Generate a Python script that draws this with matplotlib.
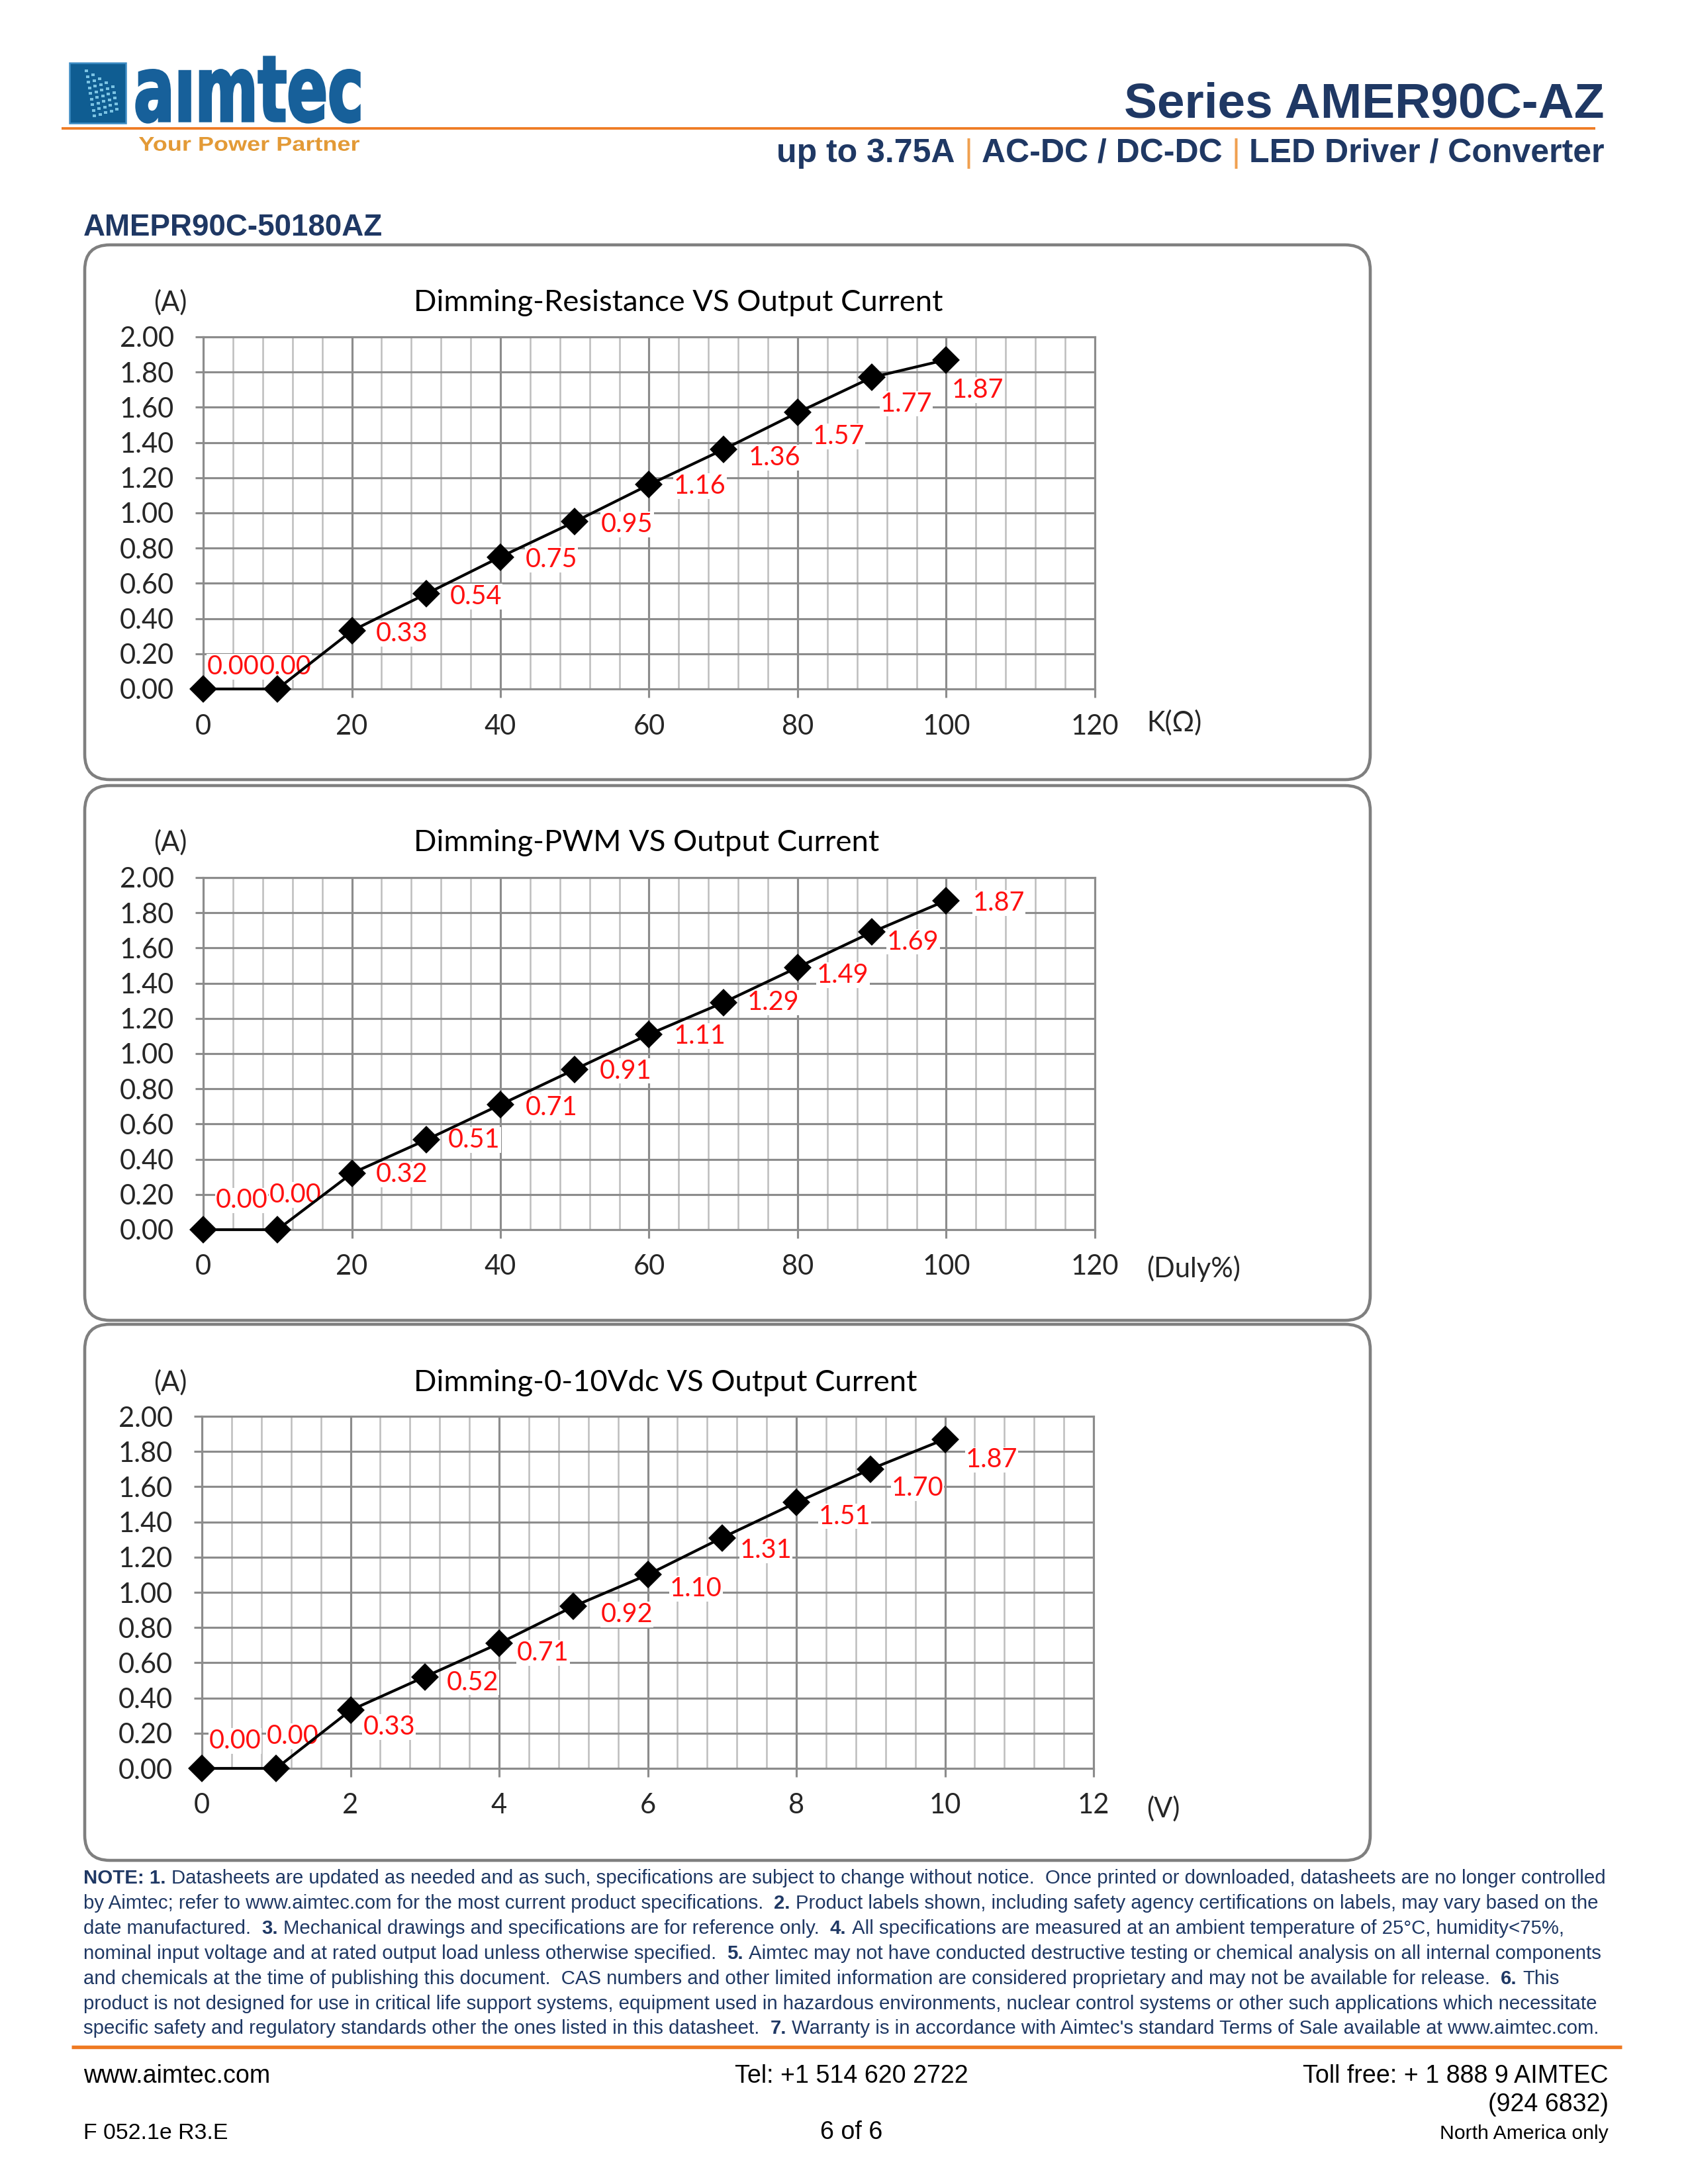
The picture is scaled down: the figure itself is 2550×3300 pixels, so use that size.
import numpy as np
import matplotlib
matplotlib.use("Agg")
import matplotlib.pyplot as plt
from matplotlib.patches import FancyBboxPatch, Rectangle, PathPatch
from matplotlib.textpath import TextPath
from matplotlib.font_manager import FontProperties, fontManager
from matplotlib.path import Path
from matplotlib.ticker import MultipleLocator, FormatStrFormatter

W, H = 2550, 3300

# ---- data ----
res_x = [0, 10, 20, 30, 40, 50, 60, 70, 80, 90, 100]
res_y = [0.00, 0.00, 0.33, 0.54, 0.75, 0.95, 1.16, 1.36, 1.57, 1.77, 1.87]

pwm_x = [0, 10, 20, 30, 40, 50, 60, 70, 80, 90, 100]
pwm_y = [0.00, 0.00, 0.32, 0.51, 0.71, 0.91, 1.11, 1.29, 1.49, 1.69, 1.87]

vdc_x = [0, 1, 2, 3, 4, 5, 6, 7, 8, 9, 10]
vdc_y = [0.00, 0.00, 0.33, 0.52, 0.71, 0.92, 1.10, 1.31, 1.51, 1.70, 1.87]

titles = ["Dimming-Resistance VS Output Current",
          "Dimming-PWM VS Output Current",
          "Dimming-0-10Vdc VS Output Current"]
units = ["K(Ω)", "(Duly%)", "(V)"]

# label offsets (points) for the red value labels
res_offs = [(1.5, 8), (-6.6, 8), (8.6, -1), (8.6, -1), (9, -1), (9.6, -1),
            (9, -0.5), (9, -3), (5.5, -8.6), (3, -9.6), (2, -11)]
pwm_offs = [(4.5, 10.6), (-3, 12.6), (8.6, -0.5), (8, 0), (9, -1), (9, -0.5),
            (9, -0.7), (8.6, 0), (7, -2.8), (5.5, -3.5), (9.6, -1)]
vdc_offs = [(2.5, 10), (-3.5, 11.6), (4.5, -6), (8, -2), (6.5, -3.5), (10, -3),
            (8, -5), (6.5, -4.5), (8, -5), (7.5, -7), (7.5, -7.5)]

notes = [
    [("NOTE: 1.", True), (" Datasheets are updated as needed and as such, specifications are subject to change without notice.  Once printed or downloaded, datasheets are no longer controlled", False)],
    [("by Aimtec; refer to www.aimtec.com for the most current product specifications.  ", False), ("2.", True), (" Product labels shown, including safety agency certifications on labels, may vary based on the", False)],
    [("date manufactured.  ", False), ("3.", True), (" Mechanical drawings and specifications are for reference only.  ", False), ("4.", True), (" All specifications are measured at an ambient temperature of 25°C, humidity<75%,", False)],
    [("nominal input voltage and at rated output load unless otherwise specified.  ", False), ("5.", True), (" Aimtec may not have conducted destructive testing or chemical analysis on all internal components", False)],
    [("and chemicals at the time of publishing this document.  CAS numbers and other limited information are considered proprietary and may not be available for release.  ", False), ("6.", True), (" This", False)],
    [("product is not designed for use in critical life support systems, equipment used in hazardous environments, nuclear control systems or other such applications which necessitate", False)],
    [("specific safety and regulatory standards other the ones listed in this datasheet.  ", False), ("7.", True), (" Warranty is in accordance with Aimtec's standard Terms of Sale available at www.aimtec.com.", False)],
]

NAVY = "#1f3864"
ORANGE = "#ef7a22"
GRID = "#8c8c8c"
CFONT = ["Lato", "DejaVu Sans"]

names = {f.name for f in fontManager.ttflist}
NARROW = "Liberation Sans Narrow" if "Liberation Sans Narrow" in names else "Liberation Sans"

fig = plt.figure(figsize=(8.5, 11), dpi=300)
page = fig.add_axes([0, 0, 1, 1])
page.set_xlim(0, W)
page.set_ylim(H, 0)
page.axis("off")
renderer = fig.canvas.get_renderer()


def px_rect(x0, y0, x1, y1):
    return [x0 / W, 1 - y1 / H, (x1 - x0) / W, (y1 - y0) / H]


def text_w(s, size, family, weight="normal"):
    t = page.text(0, 0, s, fontsize=size, family=family, fontweight=weight)
    w = t.get_window_extent(renderer).width
    t.remove()
    return w


def fit_size(s, target, family, weight="normal"):
    return 10 * target / text_w(s, 10, family, weight)


def runs_width(parts, size, family):
    sp = text_w("a a", size, family) - text_w("aa", size, family)
    tot = 0
    for s, b in parts:
        core = s.strip()
        lead = len(s) - len(s.lstrip())
        trail = len(s) - len(s.rstrip())
        tot += lead * sp + text_w(core, size, family, "bold" if b else "normal") + trail * sp
    return tot


def put_runs(x, y, parts, size, family, colors=None, ha="left"):
    sp = text_w("a a", size, family) - text_w("aa", size, family)
    start = x if ha == "left" else x - runs_width(parts, size, family)
    for i, (s, b) in enumerate(parts):
        col = colors[i] if colors else NAVY
        core = s.strip()
        start += (len(s) - len(s.lstrip())) * sp
        wt = "bold" if b else "normal"
        page.text(start, y, core, fontsize=size, family=family, fontweight=wt,
                  color=col, va="baseline", ha="left")
        start += text_w(core, size, family, wt)
        start += (len(s) - len(s.rstrip())) * sp


def stretched_text(s, x0, x1, ytop, ybot, color, family, weight="bold", edge=0):
    tp = TextPath((0, 0), s, size=100, prop=FontProperties(family=family, weight=weight))
    v = tp.vertices
    ext = tp.get_extents()
    nv = np.column_stack([x0 + (v[:, 0] - ext.x0) / ext.width * (x1 - x0),
                          ybot - (v[:, 1] - ext.y0) / ext.height * (ybot - ytop)])
    page.add_patch(PathPatch(Path(nv, tp.codes), fc=color, ec=color, lw=edge))


# ---- header ----
page.add_patch(Rectangle((105, 95), 85, 91, fc="#0f5d92", ec="#3d8cc4", lw=0.6))
for k in range(5):
    for j in range(9 - k):
        cx = 128 + k * 10 + j * 1.5
        cy = 105 + k * 6 + j * 8.5
        if cy < 178:
            page.add_patch(Rectangle((cx, cy), 5, 4, fc="#8fd6f2", ec="none", alpha=0.85))
stretched_text("aımtec", 206, 543, 86, 185, "#17609a", "DejaVu Sans", edge=0.8)
stretched_text("Your Power Partner", 210, 543, 207, 228, "#e39a36", "Liberation Sans")
page.plot([93, 2410], [194, 194], color=ORANGE, lw=0.9, solid_capstyle="butt")

s_series = "Series AMER90C-AZ"
page.text(2424, 178, s_series, ha="right", va="baseline", color=NAVY, fontweight="bold",
          family="Liberation Sans", fontsize=fit_size(s_series, 725, "Liberation Sans", "bold"))
sub = [("up to 3.75A ", True), ("|", False), (" AC-DC / DC-DC ", True), ("|", False), (" LED Driver / Converter", True)]
sub_cols = [NAVY, "#f0a050", NAVY, "#f0a050", NAVY]
put_runs(2424, 245, sub, 12.0, "Liberation Sans", sub_cols, ha="right")

s_model = "AMEPR90C-50180AZ"
page.text(126, 356, s_model, ha="left", va="baseline", color=NAVY, fontweight="bold",
          family="Liberation Sans", fontsize=fit_size(s_model, 452, "Liberation Sans", "bold"))

# ---- charts ----
chart_data = [(res_x, res_y, res_offs), (pwm_x, pwm_y, pwm_offs), (vdc_x, vdc_y, vdc_offs)]
x_axis = [(120, 20, 4), (120, 20, 4), (12, 2, 0.4)]
ax_px = [(307, 509, 1654, 1041), (307, 1326, 1654, 1858), (305, 2140, 1652, 2672)]
box_px = [(128, 370, 2070, 1178), (128, 1187, 2070, 1995), (128, 2001, 2070, 2811)]
title_y = [457, 1273, 2089]
unit_y = [1092, 1917, 2733]

for i in range(3):
    xs, ys, offs = chart_data[i]
    xmax, xmaj, xmin = x_axis[i]
    bx = box_px[i]
    page.add_patch(FancyBboxPatch((bx[0], bx[1]), bx[2] - bx[0], bx[3] - bx[1],
                                  boxstyle="round,pad=0,rounding_size=38",
                                  fc="white", ec="#7f7f7f", lw=1.1))
    ax = fig.add_axes(px_rect(*ax_px[i]))
    ax.set_xlim(0, xmax)
    ax.set_ylim(0, 2.0)
    ax.xaxis.set_major_locator(MultipleLocator(xmaj))
    ax.xaxis.set_minor_locator(MultipleLocator(xmin))
    ax.yaxis.set_major_locator(MultipleLocator(0.2))
    ax.yaxis.set_major_formatter(FormatStrFormatter("%.2f"))
    ax.set_axisbelow(True)
    ax.grid(which="major", color=GRID, lw=0.75)
    ax.grid(which="minor", axis="x", color="#bdbdbd", lw=0.6)
    for sp in ax.spines.values():
        sp.set_color(GRID)
        sp.set_linewidth(0.75)
    ax.tick_params(which="major", direction="out", length=3, width=0.75, color=GRID,
                   labelsize=10, labelcolor="#262626")
    ax.tick_params(axis="y", pad=7.5)
    ax.tick_params(axis="x", pad=6)
    ax.tick_params(which="minor", length=0)
    for lab in ax.get_xticklabels() + ax.get_yticklabels():
        lab.set_family(CFONT)

    ax.plot(xs, ys, color="black", lw=1.0, marker="D", ms=6.2, zorder=4, clip_on=False)
    for xv, yv, (dx, dy) in zip(xs, ys, offs):
        ax.annotate(f"{yv:.2f}", (xv, yv), xytext=(dx, dy), textcoords="offset points",
                    ha="left", va="center", color="#ff1010", fontsize=9.5, family=CFONT,
                    bbox=dict(fc="white", ec="none", pad=0.2), zorder=3)

    page.text(625, title_y[i], titles[i], ha="left", va="center", fontsize=10.9, family=CFONT)
    page.text(257, title_y[i], "(A)", ha="center", va="center", fontsize=10, family=CFONT,
              color="#262626")
    page.text(1732, unit_y[i], units[i], ha="left", va="center", fontsize=10, family=CFONT,
              color="#262626")

# ---- notes ----
base = 9
w1 = runs_width(notes[0], base, NARROW)
nsize = base * 2298 / w1
note_y = [2846, 2884, 2922, 2960, 2998, 3036, 3073]
for parts, yy in zip(notes, note_y):
    put_runs(126, yy, parts, nsize, NARROW)

# ---- footer ----
page.plot([108, 2450], [3093, 3093], color=ORANGE, lw=1.3, solid_capstyle="butt")
fsz = fit_size("Tel: +1 514 620 2722", 353, NARROW)
page.text(126, 3147, "www.aimtec.com", ha="left", va="baseline", fontsize=fsz, family=NARROW)
page.text(1286, 3147, "Tel: +1 514 620 2722", ha="center", va="baseline", fontsize=fsz, family=NARROW)
page.text(2430, 3147, "Toll free: + 1 888 9 AIMTEC", ha="right", va="baseline", fontsize=fsz, family=NARROW)
page.text(2430, 3190, "(924 6832)", ha="right", va="baseline", fontsize=fsz, family=NARROW)
page.text(126, 3232, "F 052.1e R3.E", ha="left", va="baseline", fontsize=fsz * 0.9, family=NARROW)
page.text(1286, 3232, "6 of 6", ha="center", va="baseline", fontsize=fsz, family=NARROW)
page.text(2430, 3232, "North America only", ha="right", va="baseline", fontsize=fsz * 0.8, family=NARROW)

fig.savefig("out.png", dpi=300)
